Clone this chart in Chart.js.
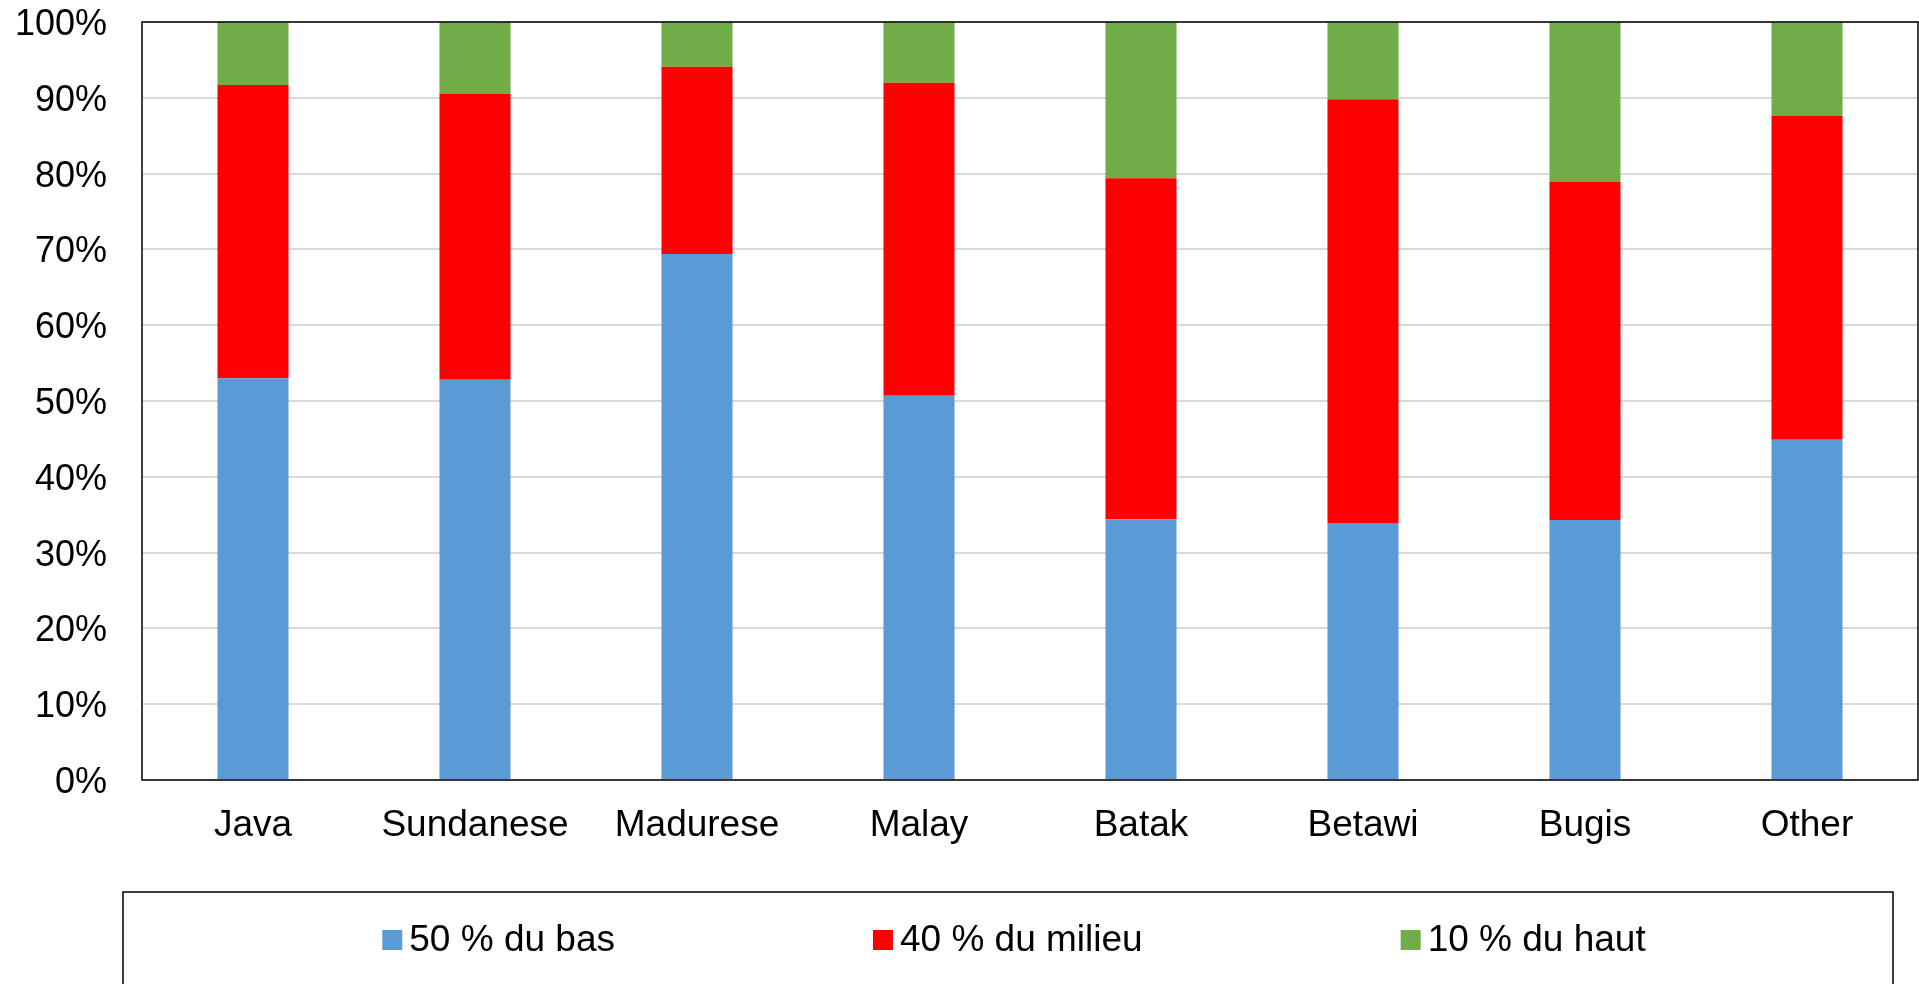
<!DOCTYPE html>
<html>
<head>
<meta charset="utf-8">
<script src="https://cdn.jsdelivr.net/npm/chart.js@4"></script>
<style>
  html, body { margin: 0; padding: 0; background: #fff; }
  #wrap { width: 1919px; height: 984px; }
</style>
</head>
<body>
<div id="wrap"><canvas id="chart"></canvas></div>
<script>
let categories = ["Java", "Sundanese", "Madurese", "Malay", "Batak", "Betawi", "Bugis", "Other"];
let bas = [53.0, 52.8, 69.4, 50.7, 34.4, 33.9, 34.3, 44.9];
let milieu = [38.7, 37.7, 24.7, 41.3, 45.0, 55.9, 44.6, 42.7];
let haut = [8.3, 9.5, 5.9, 8.0, 20.6, 10.2, 21.1, 12.4];
let yTicks = [0, 10, 20, 30, 40, 50, 60, 70, 80, 90, 100];

let fontName = "'Liberation Sans', Arial, sans-serif";

// cadre du graphique + legende encadree
let boxPlugin = {
  id: "boxPlugin",
  afterDraw(chart) {
    let ctx = chart.ctx;
    let a = chart.chartArea;
    ctx.save();
    ctx.strokeStyle = "#000";
    ctx.lineWidth = 1.5;
    ctx.strokeRect(a.left, a.top, a.right - a.left, a.bottom - a.top);

    // legende
    let lx = 123, ly = 892, lr = 1893;
    ctx.strokeRect(lx, ly, lr - lx, 140);

    ctx.font = "37px " + fontName;
    ctx.textBaseline = "middle";
    let items = chart.data.datasets.map(d => ({text: d.label, color: d.backgroundColor}));
    let sq = 20, gapText = 7, gapItem = 258;
    let total = 0;
    items.forEach((it, i) => {
      it.w = sq + gapText + ctx.measureText(it.text).width;
      total += it.w + (i > 0 ? gapItem : 0);
    });
    let x = (lx + lr) / 2 + 6 - total / 2;
    let cy = 940;
    items.forEach(it => {
      ctx.fillStyle = it.color;
      ctx.fillRect(x, cy - sq / 2, sq, sq);
      ctx.fillStyle = "#000";
      ctx.fillText(it.text, x + sq + gapText, cy + 1);
      x += it.w + gapItem;
    });
    ctx.restore();
  }
};

new Chart(document.getElementById("chart"), {
  type: "bar",
  data: {
    labels: categories,
    datasets: [
      { label: "50 % du bas", data: bas, backgroundColor: "#5B9BD5" },
      { label: "40 % du milieu", data: milieu, backgroundColor: "#FF0000" },
      { label: "10 % du haut", data: haut, backgroundColor: "#70AD47" }
    ]
  },
  options: {
    responsive: true,
    maintainAspectRatio: false,
    animation: false,
    layout: { padding: { left: 16, right: 1, top: 22, bottom: 139 } },
    datasets: { bar: { barPercentage: 0.32, categoryPercentage: 1 } },
    plugins: {
      legend: { display: false },
      tooltip: { enabled: false }
    },
    scales: {
      x: {
        stacked: true,
        grid: { display: false, drawTicks: false },
        border: { display: false },
        ticks: { color: "#000", padding: 24, font: { family: fontName, size: 37 } },
        afterFit: axis => { axis.height = 65; axis.paddingLeft = 0; axis.paddingRight = 0; }
      },
      y: {
        stacked: true,
        min: 0,
        max: 100,
        afterBuildTicks: axis => { axis.ticks = yTicks.map(v => ({ value: v })); },
        afterFit: axis => { axis.width = 126; axis.paddingTop = 0; axis.paddingBottom = 0; },
        grid: { color: "#d9d9d9", lineWidth: 2, drawTicks: false },
        border: { display: false },
        ticks: {
          color: "#000",
          padding: 35,
          labelOffset: 3,
          font: { family: fontName, size: 36 },
          callback: v => v + "%"
        }
      }
    }
  },
  plugins: [boxPlugin]
});
</script>
</body>
</html>
